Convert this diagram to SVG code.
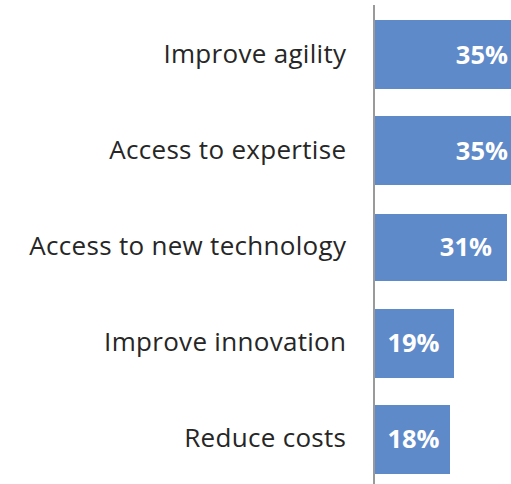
<svg xmlns="http://www.w3.org/2000/svg" width="511" height="484" viewBox="0 0 511 484">
<style>
.cat{font-family:"Open Sans","Liberation Sans",sans-serif;font-size:26px;letter-spacing:0.3px;fill:#262626;text-anchor:end}
.val{font-family:"Open Sans","Liberation Sans",sans-serif;font-size:25.5px;font-weight:bold;fill:#ffffff}
.bar{fill:#5f8ac9}
</style>
<rect width="511" height="484" fill="#ffffff"/>
<g id="row1"><rect class="bar" x="375" y="20" width="140" height="69"/><text class="cat" x="346.3" y="63">Improve agility</text><text class="val" x="508" y="64" text-anchor="end">35%</text></g>
<g id="row2"><rect class="bar" x="375" y="116" width="140" height="69"/><text class="cat" x="346.3" y="159">Access to expertise</text><text class="val" x="508" y="160" text-anchor="end">35%</text></g>
<g id="row3"><rect class="bar" x="375" y="214" width="132" height="67"/><text class="cat" x="346.3" y="255">Access to new technology</text><text class="val" x="492" y="256" text-anchor="end">31%</text></g>
<g id="row4"><rect class="bar" x="375" y="309" width="79" height="69"/><text class="cat" x="346.3" y="351">Improve innovation</text><text class="val" x="413.5" y="352" text-anchor="middle">19%</text></g>
<g id="row5"><rect class="bar" x="375" y="405" width="75" height="69"/><text class="cat" x="346.3" y="447">Reduce costs</text><text class="val" x="413.5" y="448" text-anchor="middle">18%</text></g>
<g id="connectors"><line x1="374" y1="5" x2="374" y2="484" stroke="#9a9a9a" stroke-width="2"/></g>
</svg>
